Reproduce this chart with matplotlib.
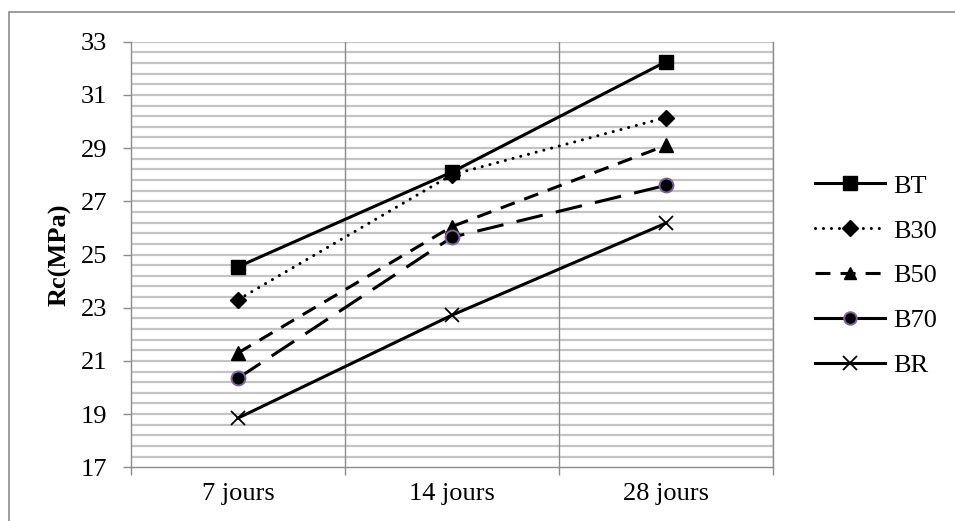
import matplotlib

matplotlib.use("Agg")
import matplotlib.pyplot as plt
from matplotlib.lines import Line2D
from matplotlib.patches import Rectangle
import numpy as np

plt.rcParams["font.family"] = ["Liberation Serif", "DejaVu Serif"]

# compressive strength by curing age
ages = ["7 jours", "14 jours", "28 jours"]
bt = [24.54, 28.1, 32.25]
b30 = [23.3, 28.0, 30.15]
b50 = [21.3, 26.05, 29.1]
b70 = [20.35, 25.65, 27.6]
br = [18.85, 22.72, 26.18]

GRID_LIGHT = "#c4c4c4"
GRID_DARK = "#8c8c8c"
PURPLE = "#7f62a0"
FS = 19

fig = plt.figure(figsize=(9.55, 5.21), dpi=100)
ax = fig.add_axes([131 / 955, 1 - 467.3 / 521, (773 - 131) / 955, (467.3 - 41.7) / 521])

# outer chart frame, open on the right and bottom
fig.add_artist(Rectangle((9.3 / 955, -0.1), 1.2, 1.1 - 11.7 / 521, transform=fig.transFigure,
                         fill=False, edgecolor=GRID_DARK, linewidth=1.2))

x = np.arange(len(ages))
lw = 2.2
series = [
    ("BT", bt, dict(linestyle="-", marker="s", markersize=10.5)),
    ("B30", b30, dict(linestyle=(0, (0.01, 2.6)), dash_capstyle="round", marker="D", markersize=8.5)),
    ("B50", b50, dict(linestyle=(0, (4.9, 3.3)), marker="^", markersize=10.5)),
    ("B70", b70, dict(linestyle=(0, (8.8, 4.4)), marker="o", markersize=10,
                      markeredgecolor=PURPLE, markeredgewidth=1.4)),
    ("BR", br, dict(linestyle="-", marker="x", markersize=10.5, markeredgewidth=1.3)),
]
for name, vals, style in series:
    ax.plot(x, vals, color="black", linewidth=lw, markerfacecolor="black", zorder=3, **style)

ax.set_xlim(-0.5, len(ages) - 0.5)
ax.set_ylim(17, 33)

ax.set_yticks(np.arange(17, 34, 2))
ax.set_yticks(np.arange(17, 33.01, 0.4), minor=True)
for yv in np.arange(17.4, 33.01, 0.4):
    ax.axhline(yv, color=GRID_LIGHT, linewidth=1.6, zorder=1)

ax.set_xticks(x)
ax.set_xticklabels(ages)
ax.set_xticks(np.arange(-0.5, len(ages)), minor=True)
for xv in np.arange(0.5, len(ages)):
    ax.axvline(xv, color=GRID_DARK, linewidth=1.0, zorder=1.5)

ax.tick_params(axis="x", which="major", length=0, pad=11, labelsize=FS)
ax.tick_params(axis="x", which="minor", length=6, width=1.0, color=GRID_DARK)
ax.tick_params(axis="y", which="major", length=6, width=1.0, color=GRID_DARK, pad=11, labelsize=FS)
ax.tick_params(axis="y", which="minor", length=0)

ax.spines["top"].set_visible(False)
for side in ["left", "bottom", "right"]:
    ax.spines[side].set_color(GRID_DARK)
    ax.spines[side].set_linewidth(1.0)

ax.set_ylabel("Rc(MPa)", fontsize=FS, fontweight="bold")
ax.yaxis.set_label_coords(-(131 - 72) / 642, 0.5)

# legend handles drawn the way the chart legend shows them
handles = [
    Line2D([], [], color="black", linewidth=lw, marker="s", markersize=10.5),
    Line2D([], [], color="black", linewidth=lw, linestyle=(0, (0.01, 2.6)), dash_capstyle="round",
           marker="D", markersize=8.5),
    Line2D([], [], color="black", linewidth=lw, linestyle=(0, (4.9, 3.3)), marker="^", markersize=9),
    Line2D([], [], color="black", linewidth=lw, marker="o", markersize=9,
           markeredgecolor=PURPLE, markeredgewidth=1.4),
    Line2D([], [], color="black", linewidth=lw, marker="x", markersize=10.5, markeredgewidth=1.3),
]
fig.legend(handles, [s[0] for s in series], loc="upper left",
           bbox_to_anchor=(802 / 955, 1 - 161 / 521), frameon=False, fontsize=FS,
           handlelength=2.65, handletextpad=0.3, labelspacing=0.81, borderpad=0)

fig.savefig("out.png", dpi=100)
